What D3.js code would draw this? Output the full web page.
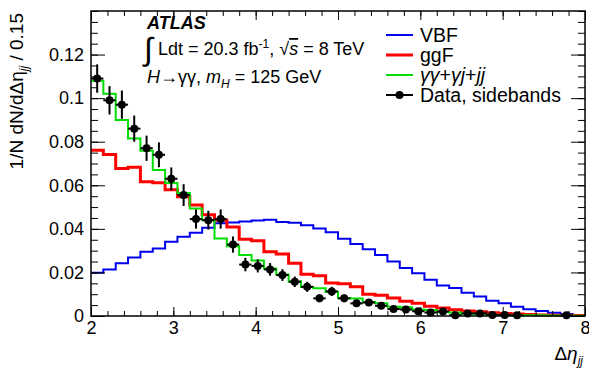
<!DOCTYPE html>
<html>
<head>
<meta charset="utf-8">
<script src="https://cdn.jsdelivr.net/npm/d3@7"></script>
<style>
  html, body { margin: 0; padding: 0; background: #fff; }
  svg { display: block; }
  text { font-family: "Liberation Sans", Arial, Helvetica, sans-serif; fill: #000; }
</style>
</head>
<body>
<svg id="chart" width="589" height="373"></svg>
<script>
// ---- data (Δη_jj bins of width 0.15 from 2 to 8) ----
const binLow = [2.00,2.15,2.30,2.45,2.60,2.75,2.90,3.05,3.20,3.35,3.50,3.65,3.80,3.95,4.10,4.25,4.40,4.55,4.70,4.85,
                5.00,5.15,5.30,5.45,5.60,5.75,5.90,6.05,6.20,6.35,6.50,6.65,6.80,6.95,7.10,7.25,7.40,7.55,7.70,7.85];
const binWidth = 0.15;
const vbf = [0.0199,0.0214,0.0242,0.0269,0.0295,0.0310,0.0341,0.0364,0.0382,0.0405,0.0426,0.0429,0.0434,0.0438,0.0442,0.0432,0.0428,0.0417,0.0402,0.0385,
             0.0355,0.0330,0.0306,0.0280,0.0250,0.0220,0.0196,0.0166,0.0140,0.0128,0.0107,0.0089,0.0070,0.0058,0.0043,0.0031,0.0023,0.0015,0.0009,0.0005];
const ggf = [0.0761,0.0741,0.0677,0.0683,0.0616,0.0612,0.0580,0.0547,0.0509,0.0465,0.0440,0.0408,0.0352,0.0345,0.0295,0.0285,0.0242,0.0192,0.0185,0.0152,
             0.0148,0.0134,0.0100,0.0095,0.0083,0.0068,0.0059,0.0045,0.0037,0.0029,0.0023,0.0020,0.0015,0.0012,0.0009,0.0007,0.0005,0.0004,0.0003,0.0002];
const bkg = [0.1080,0.1020,0.0900,0.0815,0.0758,0.0670,0.0610,0.0565,0.0494,0.0440,0.0356,0.0320,0.0280,0.0255,0.0218,0.0190,0.0160,0.0133,0.0127,0.0110,
             0.0083,0.0080,0.0064,0.0058,0.0042,0.0040,0.0030,0.0027,0.0018,0.0016,0.0010,0.0009,0.0006,0.0005,0.0004,0.0003,0.0003,0.0002,0.0002,0.0001];
const dataVal = [0.109,0.099,0.097,0.086,0.077,0.074,0.063,0.0555,0.0445,0.0440,0.0445,0.0328,0.0236,0.0230,0.0214,0.0188,0.0157,0.0134,0.0081,0.0113,
                 0.0081,0.0058,0.0062,0.0047,0.0032,0.0030,0.0022,0.0016,0.0021,0.0004,0.0012,0.0012,0.0005,0.0005,0.0003,null,null,null,0.0003,null];
const dataErr = [0.0065,0.0065,0.0065,0.0060,0.0058,0.0057,0.0052,0.0050,0.0044,0.0043,0.0044,0.0037,0.0031,0.0030,0.0029,0.0027,0.0024,0.0023,0.0018,0.0021,
                 0.0018,0.0015,0.0016,0.0014,0.0011,0.0011,0.0009,0.0008,0.0009,0.0004,0.0007,0.0007,0.0004,0.0004,0.0003,0,0,0,0.0003,0];
const xTicks = [2,3,4,5,6,7,8];
const yTicks = [0,0.02,0.04,0.06,0.08,0.1,0.12];
const legendLabels = ["VBF","ggF","γγ+γj+jj","Data, sidebands"];

// ---- layout ----
const W = 589, H = 373;
const L = 91, R = 585, T = 11, B = 316;
const svg = d3.select("#chart");
const x = d3.scaleLinear().domain([2, 8]).range([L, R]);
const y = d3.scaleLinear().domain([0, 0.14]).range([B, T]);

const colors = { vbf: "#0000ee", ggf: "#ff0000", bkg: "#00dd00" };

// ---- histograms ----
function stepPts(vals) {
  const p = binLow.map((lo, i) => [lo, vals[i]]);
  p.push([binLow[binLow.length - 1] + binWidth, vals[vals.length - 1]]);
  return p;
}
const line = d3.line().x(d => x(d[0])).y(d => y(d[1])).curve(d3.curveStepAfter);
const plot = svg.append("g");
plot.append("path").attr("d", line(stepPts(vbf))).attr("fill", "none").attr("stroke", colors.vbf).attr("stroke-width", 2);
plot.append("path").attr("d", line(stepPts(ggf))).attr("fill", "none").attr("stroke", colors.ggf).attr("stroke-width", 3);
plot.append("path").attr("d", line(stepPts(bkg))).attr("fill", "none").attr("stroke", colors.bkg).attr("stroke-width", 2);

// ---- data points ----
const pts = binLow.map((lo, i) => ({ lo, v: dataVal[i], e: dataErr[i] })).filter(d => d.v !== null);
const dg = plot.append("g");
pts.forEach(d => {
  const cx = x(d.lo + binWidth / 2);
  dg.append("line").attr("x1", x(d.lo)).attr("x2", x(d.lo + binWidth)).attr("y1", y(d.v)).attr("y2", y(d.v))
    .attr("stroke", "#000").attr("stroke-width", 2);
  if (d.e > 0) {
    dg.append("line").attr("x1", cx).attr("x2", cx).attr("y1", y(Math.max(0, d.v - d.e))).attr("y2", y(d.v + d.e))
      .attr("stroke", "#000").attr("stroke-width", 2);
  }
  dg.append("circle").attr("cx", cx).attr("cy", y(d.v)).attr("r", 4).attr("fill", "#000");
});

// ---- axes ----
const fmtY = d => d === 0 ? "0" : String(+d.toFixed(2));
const xMinor = d3.range(2, 8.0001, 0.2).map(v => +v.toFixed(2));
const yMinor = d3.range(0, 0.1401, 0.005).map(v => +v.toFixed(3));

function styleAxis(g) {
  g.select(".domain").remove();
  g.selectAll("line").attr("stroke", "#000").attr("stroke-width", 1);
  g.selectAll("text").style("font-family", '"Liberation Sans", Arial, sans-serif').style("font-size", "18px").attr("fill", "#000");
}
// bottom
svg.append("g").attr("transform", `translate(0,${B})`)
  .call(d3.axisBottom(x).tickValues(xMinor).tickSize(-5).tickFormat("")).call(styleAxis);
svg.append("g").attr("transform", `translate(0,${B})`)
  .call(d3.axisBottom(x).tickValues(xTicks).tickSize(-9).tickPadding(5).tickFormat(d3.format("d"))).call(styleAxis);
// top
svg.append("g").attr("transform", `translate(0,${T})`)
  .call(d3.axisTop(x).tickValues(xMinor).tickSize(-5).tickFormat("")).call(styleAxis);
svg.append("g").attr("transform", `translate(0,${T})`)
  .call(d3.axisTop(x).tickValues(xTicks).tickSize(-9).tickFormat("")).call(styleAxis);
// left
svg.append("g").attr("transform", `translate(${L},0)`)
  .call(d3.axisLeft(y).tickValues(yMinor).tickSize(-7).tickFormat("")).call(styleAxis);
svg.append("g").attr("transform", `translate(${L},0)`)
  .call(d3.axisLeft(y).tickValues(yTicks).tickSize(-14).tickPadding(7).tickFormat(fmtY)).call(styleAxis);
// right
svg.append("g").attr("transform", `translate(${R},0)`)
  .call(d3.axisRight(y).tickValues(yMinor).tickSize(-7).tickFormat("")).call(styleAxis);
svg.append("g").attr("transform", `translate(${R},0)`)
  .call(d3.axisRight(y).tickValues(yTicks).tickSize(-14).tickFormat("")).call(styleAxis);
// frame
svg.append("rect").attr("x", L).attr("y", T).attr("width", R - L).attr("height", B - T)
  .attr("fill", "none").attr("stroke", "#000").attr("stroke-width", 1.5);

// ---- axis titles ----
const yt = svg.append("text").attr("transform", `translate(23,${T + 2}) rotate(-90)`)
  .attr("text-anchor", "end").style("font-size", "19px");
yt.append("tspan").text("1/N dN/dΔη");
yt.append("tspan").attr("dy", 5).style("font-size", "12px").style("font-style", "italic").text("jj");
yt.append("tspan").attr("dy", -5).text(" / 0.15");

const xt = svg.append("text").attr("x", R - 2).attr("y", 360).attr("text-anchor", "end").style("font-size", "19px");
xt.append("tspan").text("Δ");
xt.append("tspan").style("font-style", "italic").text("η");
xt.append("tspan").attr("dy", 5).style("font-size", "12px").style("font-style", "italic").text("jj");

// ---- ATLAS labels ----
svg.append("text").attr("x", 147).attr("y", 29).style("font-size", "18px").style("font-weight", "bold")
  .style("font-style", "italic").text("ATLAS");
svg.append("text").attr("x", 144).attr("y", 60).style("font-size", "32px")
  .style("font-family", '"DejaVu Sans", sans-serif').style("font-weight", "200").text("∫");
const lum = svg.append("text").attr("x", 158).attr("y", 55).style("font-size", "18px");
lum.append("tspan").text("Ldt = 20.3 fb");
lum.append("tspan").attr("dy", -7).style("font-size", "12px").text("-1");
lum.append("tspan").attr("dy", 7).text(", √");
lum.append("tspan").style("font-style", "italic").style("text-decoration", "overline").text("s");
lum.append("tspan").text(" = 8 TeV");
const hl = svg.append("text").attr("x", 147).attr("y", 83).style("font-size", "18px");
hl.append("tspan").style("font-style", "italic").text("H");
hl.append("tspan").text("→γγ, ");
hl.append("tspan").style("font-style", "italic").text("m");
hl.append("tspan").attr("dy", 5).style("font-size", "12px").style("font-style", "italic").text("H");
hl.append("tspan").attr("dy", -5).text(" = 125 GeV");

// ---- legend ----
const lg = svg.append("g");
const lx0 = 386, lx1 = 413, ltx = 420;
const ly = [35, 55, 75, 95];
[["vbf", 2], ["ggf", 3], ["bkg", 2]].forEach(([k, w], i) => {
  lg.append("line").attr("x1", lx0).attr("x2", lx1).attr("y1", ly[i]).attr("y2", ly[i])
    .attr("stroke", colors[k]).attr("stroke-width", w);
});
lg.append("line").attr("x1", lx0).attr("x2", lx1).attr("y1", ly[3]).attr("y2", ly[3]).attr("stroke", "#000").attr("stroke-width", 2);
lg.append("circle").attr("cx", (lx0 + lx1) / 2).attr("cy", ly[3]).attr("r", 4).attr("fill", "#000");
legendLabels.forEach((t, i) => {
  const tx = lg.append("text").attr("x", ltx).attr("y", ly[i]).attr("dy", "0.35em").style("font-size", "19.5px");
  if (i === 2) {
    tx.append("tspan").style("font-style", "italic").text("γγ");
    tx.append("tspan").text("+");
    tx.append("tspan").style("font-style", "italic").text("γj");
    tx.append("tspan").text("+");
    tx.append("tspan").style("font-style", "italic").text("jj");
  } else {
    tx.text(t);
  }
});
</script>
</body>
</html>
